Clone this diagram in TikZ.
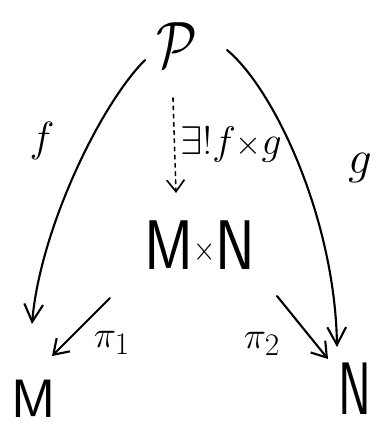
\documentclass[tikz,border=0pt]{standalone}
\usepackage{graphicx}
\usetikzlibrary{arrows.meta,calc}
\begin{document}
\begin{tikzpicture}[x=0.03cm,y=-0.03cm,
  arr/.style={line width=1.8pt, line cap=round, -{Straight Barb[length=12pt,width=16pt,line width=1.8pt]}},
  bigarr/.style={line width=1.8pt, line cap=round, -{Straight Barb[length=15pt,width=16pt,line width=1.8pt]}},
  dotarr/.style={line width=1.4pt, line cap=round, dash pattern=on 3pt off 4pt, -{Straight Barb[length=10pt,width=15pt,line width=1.4pt]}},
  lbl/.style={inner sep=0pt}]
\useasboundingbox[fill=white] (0,0) rectangle (381,428);
\node[lbl] (P) at (177,45) {\scalebox{1.8}[2.25]{\Huge$\mathcal{P}$}};
\node[lbl] (MN) at (200,245) {\scalebox{2.05}[2.41]{\Huge\sffamily M\raisebox{3.3pt}{\large$\times$}N}};
\node[lbl] (M) at (34,399) {\scalebox{1.85}{\Huge\sffamily M}};
\node[lbl] (N) at (355,389) {\scalebox{1.7}[2.55]{\Huge\sffamily N}};
\node[lbl] (f) at (42,141) {\scalebox{1.45}{\Huge$f$}};
\node[lbl] (g) at (360,168) {\scalebox{1.61}{\Huge$g$}};
\node[lbl] (ex) at (231,145) {\scalebox{1.37}{\Huge$\exists!f{\scriptstyle\times}g$}};
\node[lbl] (p1) at (112,343) {\scalebox{1.29}{\Huge$\pi_1$}};
\node[lbl] (p2) at (262,344) {\scalebox{1.29}{\Huge$\pi_2$}};
\draw[bigarr] ($(P)+(-32,15)$) .. controls ($(P)+(-77,60)$) and ($(M)+(6,-169)$) .. ($(M)+(-2,-75)$);
\draw[bigarr] ($(P)+(50,5)$) .. controls ($(P)+(98,45)$) and ($(N)+(-20,-169)$) .. ($(N)+(-18,-42)$);
\draw[dotarr] ($(P)+(-4,53)$) -- ($(MN)+(-24,-52)$);
\draw[arr] ($(MN)+(-90,53)$) -- ($(M)+(18,-43)$);
\draw[arr] ($(MN)+(77,51)$) -- ($(N)+(-27,-30)$);
\end{tikzpicture}
\end{document}
